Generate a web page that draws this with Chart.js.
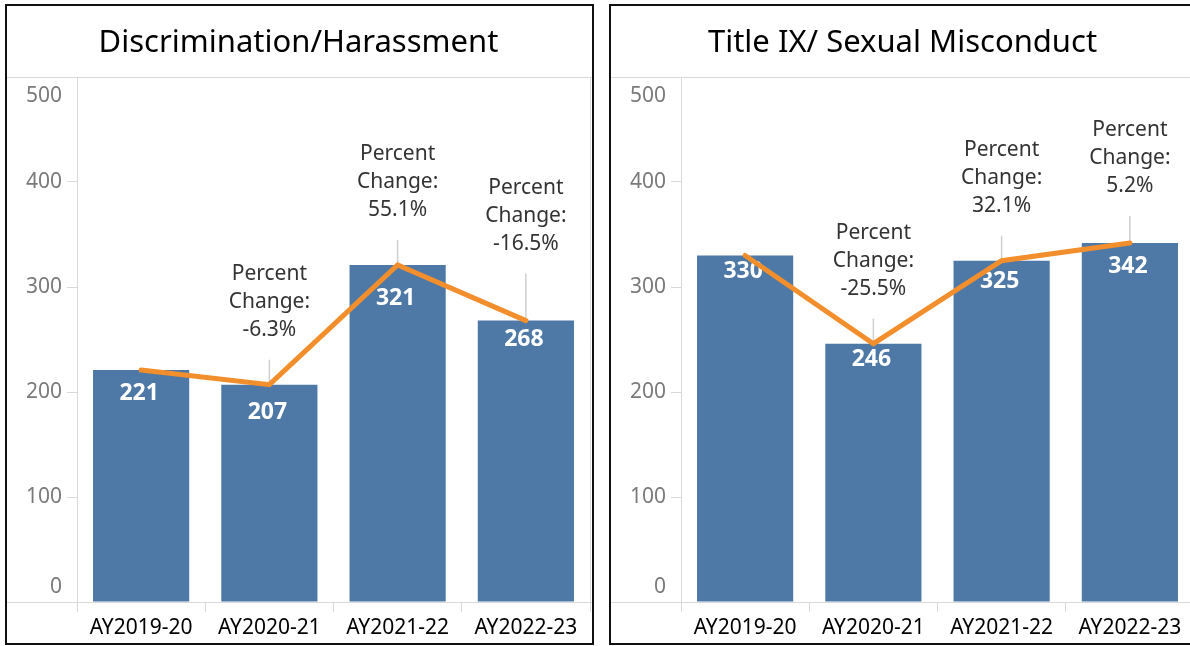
<!DOCTYPE html>
<html>
<head>
<meta charset="utf-8">
<script src="https://cdn.jsdelivr.net/npm/chart.js@4/dist/chart.umd.min.js"></script>
<style>
  body { margin: 0; background: #fff; overflow: hidden; width: 1190px; height: 646px; position: relative; }
  .panel { position: absolute; top: 4px; width: 585px; height: 637px; border: 2px solid #111; background: #fff; }
  #leftPanel { left: 5px; }
  #rightPanel { left: 609px; }
</style>
</head>
<body>
<div class="panel" id="leftPanel"><canvas id="discChart" width="585" height="637"></canvas></div>
<div class="panel" id="rightPanel"><canvas id="titleChart" width="585" height="637"></canvas></div>
<script>
// Data
const categories = ['AY2019-20', 'AY2020-21', 'AY2021-22', 'AY2022-23'];
const discriminationCounts = [221, 207, 321, 268];
const titleIXCounts = [330, 246, 325, 342];
const discriminationChange = [null, '-6.3%', '55.1%', '-16.5%'];
const titleIXChange = [null, '-25.5%', '32.1%', '5.2%'];

const FONT = '"Noto Sans", "Open Sans", sans-serif';
const BAR_BLUE = '#4E79A7';
const LINE_ORANGE = '#F28E2B';
const FRAME_GREY = '#d9d9d9';

// Draws the Tableau-like frame, y tick labels, bar labels, leader lines and annotations
const decorPlugin = {
    id: 'decor',
    beforeDatasetsDraw(chart, args, opts) {
        const ctx = chart.ctx;
        const area = chart.chartArea;
        const y = chart.scales.y;
        ctx.save();
        ctx.strokeStyle = FRAME_GREY;
        ctx.lineWidth = 1;
        ctx.beginPath();
        ctx.moveTo(0, area.top + 0.5); ctx.lineTo(chart.width, area.top + 0.5);
        ctx.moveTo(0, area.bottom + 0.5); ctx.lineTo(chart.width, area.bottom + 0.5);
        ctx.moveTo(area.left + 0.5, area.top); ctx.lineTo(area.left + 0.5, area.bottom);
        ctx.moveTo(area.right + 0.5, area.top); ctx.lineTo(area.right + 0.5, area.bottom);
        ctx.stroke();

        // y tick labels, first/last pulled inside the frame like Tableau does
        ctx.font = '21px ' + FONT;
        ctx.fillStyle = '#7a7a7a';
        ctx.textAlign = 'right';
        ctx.textBaseline = 'middle';
        y.ticks.forEach(t => {
            let py = y.getPixelForValue(t.value);
            if (t.value === y.max) py += 19;
            if (t.value === y.min) py -= 15;
            ctx.fillText(String(t.value), area.left - 15, py);
        });
        ctx.restore();
    },
    afterDatasetDraw(chart, args, opts) {
        if (args.meta.type !== 'bar') return;
        const ctx = chart.ctx;
        const lineMeta = chart.getDatasetMeta(1);
        ctx.save();
        // leader lines from annotation down to the line point
        ctx.strokeStyle = '#cfcfcf';
        ctx.lineWidth = 1.5;
        opts.changes.forEach((c, i) => {
            if (!c) return;
            const pt = lineMeta.data[i];
            ctx.beginPath();
            ctx.moveTo(pt.x, pt.y - opts.lift[i] + 30);
            ctx.lineTo(pt.x, pt.y);
            ctx.stroke();
        });
        // value labels inside the bars
        ctx.font = 'bold 23px ' + FONT;
        ctx.fillStyle = '#ffffff';
        ctx.textAlign = 'center';
        ctx.textBaseline = 'middle';
        args.meta.data.forEach((bar, i) => {
            const v = chart.data.datasets[0].data[i];
            ctx.fillText(String(v), bar.x - 2, bar.y + opts.valueOffset[i]);
        });
        ctx.restore();
    },
    afterDatasetsDraw(chart, args, opts) {
        const ctx = chart.ctx;
        const lineMeta = chart.getDatasetMeta(1);
        ctx.save();
        ctx.font = '21px ' + FONT;
        ctx.fillStyle = '#333333';
        ctx.textAlign = 'center';
        ctx.textBaseline = 'middle';
        opts.changes.forEach((c, i) => {
            if (!c) return;
            const pt = lineMeta.data[i];
            const base = pt.y - opts.lift[i];
            ctx.fillText('Percent', pt.x, base - 56);
            ctx.fillText('Change:', pt.x, base - 28);
            ctx.fillText(c, pt.x, base);
        });
        ctx.restore();
    }
};

function makeChart(canvasId, title, counts, changes, lift, valueOffset) {
    const ctx = document.getElementById(canvasId).getContext('2d');
    return new Chart(ctx, {
        data: {
            labels: categories,
            datasets: [
                {
                    type: 'bar',
                    data: counts,
                    backgroundColor: BAR_BLUE,
                    categoryPercentage: 1.0,
                    barPercentage: 0.75,
                    order: 1
                },
                {
                    type: 'line',
                    data: counts,
                    borderColor: LINE_ORANGE,
                    borderWidth: 5,
                    borderCapStyle: 'round',
                    pointRadius: 0,
                    tension: 0,
                    order: 0
                }
            ]
        },
        options: {
            responsive: false,
            animation: false,
            layout: { padding: { left: 0, right: 2, top: 0, bottom: 0 } },
            plugins: {
                legend: { display: false },
                tooltip: { enabled: false },
                title: {
                    display: true,
                    text: title,
                    color: '#000',
                    font: { family: FONT, size: 31, weight: 'normal', lineHeight: 1.2 },
                    padding: { top: 19, bottom: 14.8 }
                },
                decor: { changes: changes, lift: lift, valueOffset: valueOffset }
            },
            scales: {
                x: {
                    offset: true,
                    afterFit: s => { s.height = 41; },
                    grid: { offset: true, drawOnChartArea: false, drawTicks: true, tickLength: 10, color: FRAME_GREY },
                    border: { display: true, color: FRAME_GREY },
                    ticks: { color: '#000', padding: 3, font: { family: FONT, size: 21 } }
                },
                y: {
                    min: 0,
                    max: 500,
                    afterFit: s => { s.width = 70; },
                    grid: { drawOnChartArea: false, drawTicks: true, tickLength: 10, color: FRAME_GREY },
                    border: { display: true, color: FRAME_GREY },
                    ticks: { stepSize: 100, display: false }
                }
            }
        },
        plugins: [decorPlugin]
    });
}

makeChart('discChart', 'Discrimination/Harassment', discriminationCounts, discriminationChange,
    [0, 55, 55, 77], [24, 28, 34, 19]);
makeChart('titleChart', 'Title IX/ Sexual Misconduct', titleIXCounts, titleIXChange,
    [0, 55, 55, 57], [16, 16, 21, 24]);
</script>
</body>
</html>
